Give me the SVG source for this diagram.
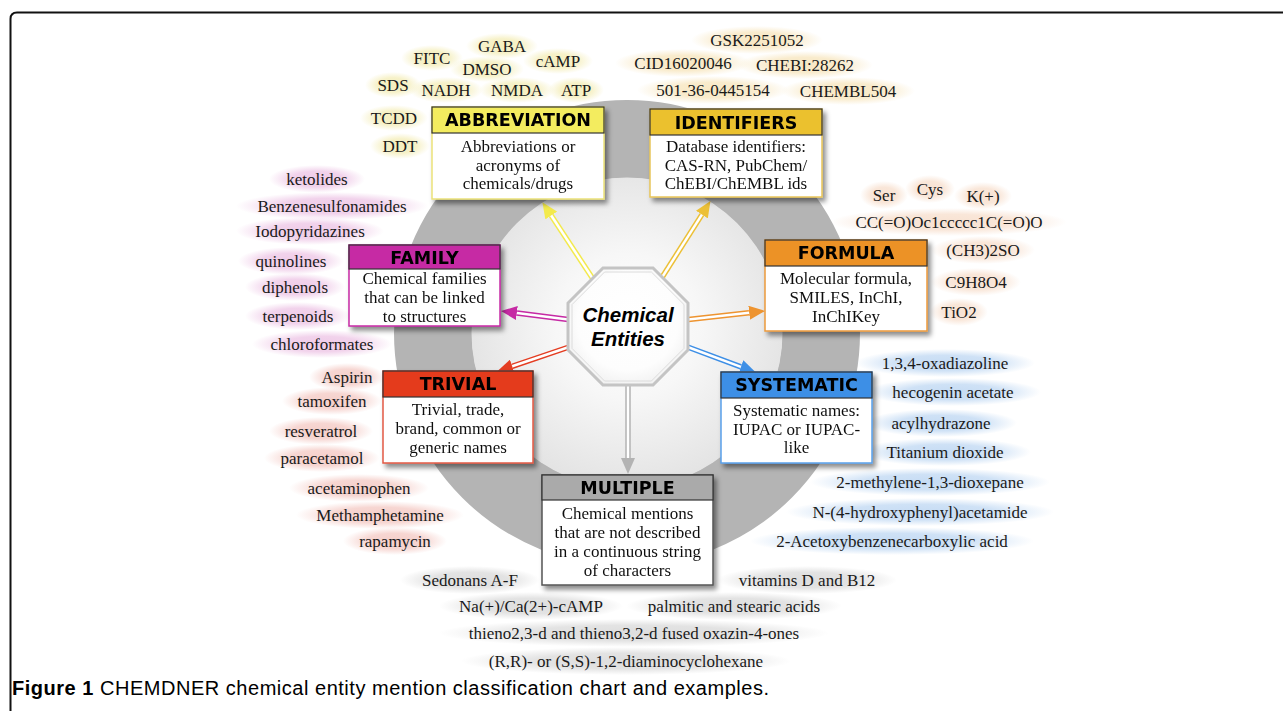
<svg xmlns="http://www.w3.org/2000/svg" width="1283" height="711" viewBox="0 0 1283 711">
<defs>
<style>
.ex{font-family:"Liberation Serif","Times New Roman",serif;font-size:17px;fill:#1a1a1a;text-anchor:middle}
.bd{font-family:"Liberation Serif","Times New Roman",serif;font-size:17px;fill:#111;text-anchor:middle}
.hd{font-family:"DejaVu Sans",Verdana,sans-serif;font-weight:bold;font-size:17.5px;fill:#000;text-anchor:middle}
.body{fill:#fff;stroke-width:1.5}
.head{stroke:#333;stroke-width:1.2}
.sh{stroke-width:5.5;fill:none}
.in{stroke:#fff;stroke-width:2.5;fill:none}
.cap{font-family:"Liberation Sans",Arial,sans-serif;font-size:20px;fill:#000}
</style>
<radialGradient id="gY"><stop offset="0" stop-color="#f5efbf"/><stop offset="0.55" stop-color="#f5efbf" stop-opacity="0.85"/><stop offset="1" stop-color="#f5efbf" stop-opacity="0"/></radialGradient>
<radialGradient id="gI"><stop offset="0" stop-color="#f8e8c4"/><stop offset="0.55" stop-color="#f8e8c4" stop-opacity="0.85"/><stop offset="1" stop-color="#f8e8c4" stop-opacity="0"/></radialGradient>
<radialGradient id="gF"><stop offset="0" stop-color="#efcbe8"/><stop offset="0.55" stop-color="#efcbe8" stop-opacity="0.85"/><stop offset="1" stop-color="#efcbe8" stop-opacity="0"/></radialGradient>
<radialGradient id="gO"><stop offset="0" stop-color="#f8e2d2"/><stop offset="0.55" stop-color="#f8e2d2" stop-opacity="0.85"/><stop offset="1" stop-color="#f8e2d2" stop-opacity="0"/></radialGradient>
<radialGradient id="gR"><stop offset="0" stop-color="#f5cfca"/><stop offset="0.55" stop-color="#f5cfca" stop-opacity="0.85"/><stop offset="1" stop-color="#f5cfca" stop-opacity="0"/></radialGradient>
<radialGradient id="gB"><stop offset="0" stop-color="#c6dcf4"/><stop offset="0.55" stop-color="#c6dcf4" stop-opacity="0.85"/><stop offset="1" stop-color="#c6dcf4" stop-opacity="0"/></radialGradient>
<radialGradient id="gG"><stop offset="0" stop-color="#dedede"/><stop offset="0.55" stop-color="#dedede" stop-opacity="0.85"/><stop offset="1" stop-color="#dedede" stop-opacity="0"/></radialGradient>
<radialGradient id="disc" cx="628" cy="326" r="160" gradientUnits="userSpaceOnUse"><stop offset="0" stop-color="#ffffff"/><stop offset="0.45" stop-color="#f7f7f7"/><stop offset="1" stop-color="#e4e4e4"/></radialGradient>
<radialGradient id="oct" cx="0.5" cy="0.45" r="0.6"><stop offset="0" stop-color="#ffffff"/><stop offset="0.7" stop-color="#fdfdfd"/><stop offset="1" stop-color="#efefef"/></radialGradient>
<filter id="ds" x="-10%" y="-10%" width="130%" height="140%"><feDropShadow dx="3" dy="4" stdDeviation="2.5" flood-color="#000" flood-opacity="0.45"/></filter>
<marker id="mY" viewBox="0 0 16 14" refX="0" refY="7" markerWidth="16" markerHeight="14" markerUnits="userSpaceOnUse" orient="auto"><path d="M0,0 L16,7 L0,14 z" fill="#f3ea4c"/></marker>
<marker id="mI" viewBox="0 0 16 14" refX="0" refY="7" markerWidth="16" markerHeight="14" markerUnits="userSpaceOnUse" orient="auto"><path d="M0,0 L16,7 L0,14 z" fill="#ecc036"/></marker>
<marker id="mF" viewBox="0 0 16 14" refX="0" refY="7" markerWidth="16" markerHeight="14" markerUnits="userSpaceOnUse" orient="auto"><path d="M0,0 L16,7 L0,14 z" fill="#c62aa4"/></marker>
<marker id="mO" viewBox="0 0 16 14" refX="0" refY="7" markerWidth="16" markerHeight="14" markerUnits="userSpaceOnUse" orient="auto"><path d="M0,0 L16,7 L0,14 z" fill="#ee9430"/></marker>
<marker id="mR" viewBox="0 0 16 14" refX="0" refY="7" markerWidth="16" markerHeight="14" markerUnits="userSpaceOnUse" orient="auto"><path d="M0,0 L16,7 L0,14 z" fill="#e43d22"/></marker>
<marker id="mB" viewBox="0 0 16 14" refX="0" refY="7" markerWidth="16" markerHeight="14" markerUnits="userSpaceOnUse" orient="auto"><path d="M0,0 L16,7 L0,14 z" fill="#3d8fe6"/></marker>
<marker id="mG" viewBox="0 0 16 14" refX="0" refY="7" markerWidth="16" markerHeight="14" markerUnits="userSpaceOnUse" orient="auto"><path d="M0,0 L16,7 L0,14 z" fill="#b3b3b3"/></marker>
</defs>
<rect width="1283" height="711" fill="#fff"/>
<path d="M10.5 711 V19 Q10.5 12.5 17 12.5 H1283" fill="none" stroke="#111" stroke-width="2"/>
<g id="ring">
<circle cx="627" cy="333" r="194" fill="none" stroke="#b4b4b4" stroke-width="78"/>
<circle cx="627" cy="333" r="155.5" fill="url(#disc)"/>
</g>

<g id="examples">
<g id="ex-abbreviation">
<ellipse cx="502" cy="46" rx="36" ry="13" fill="url(#gY)"/>
<ellipse cx="432" cy="58" rx="31" ry="13" fill="url(#gY)"/>
<ellipse cx="487" cy="69" rx="37" ry="13" fill="url(#gY)"/>
<ellipse cx="558" cy="61" rx="35" ry="13" fill="url(#gY)"/>
<ellipse cx="393" cy="85" rx="28" ry="13" fill="url(#gY)"/>
<ellipse cx="446" cy="90" rx="37" ry="13" fill="url(#gY)"/>
<ellipse cx="517" cy="90" rx="38" ry="13" fill="url(#gY)"/>
<ellipse cx="576" cy="90" rx="28" ry="13" fill="url(#gY)"/>
<ellipse cx="394" cy="118" rx="34" ry="13" fill="url(#gY)"/>
<ellipse cx="400" cy="146" rx="30" ry="13" fill="url(#gY)"/>
<text class="ex" x="502" y="52">GABA</text>
<text class="ex" x="432" y="64">FITC</text>
<text class="ex" x="487" y="75">DMSO</text>
<text class="ex" x="558" y="67">cAMP</text>
<text class="ex" x="393" y="91">SDS</text>
<text class="ex" x="446" y="96">NADH</text>
<text class="ex" x="517" y="96">NMDA</text>
<text class="ex" x="576" y="96">ATP</text>
<text class="ex" x="394" y="124">TCDD</text>
<text class="ex" x="400" y="152">DDT</text>
</g>
<g id="ex-identifiers">
<ellipse cx="757" cy="40" rx="66" ry="14" fill="url(#gI)"/>
<ellipse cx="683" cy="63" rx="68" ry="14" fill="url(#gI)"/>
<ellipse cx="805" cy="65" rx="68" ry="14" fill="url(#gI)"/>
<ellipse cx="713" cy="90" rx="76" ry="14" fill="url(#gI)"/>
<ellipse cx="848" cy="91" rx="67" ry="14" fill="url(#gI)"/>
<text class="ex" x="757" y="46">GSK2251052</text>
<text class="ex" x="683" y="69">CID16020046</text>
<text class="ex" x="805" y="71">CHEBI:28262</text>
<text class="ex" x="713" y="96">501-36-0445154</text>
<text class="ex" x="848" y="97">CHEMBL504</text>
</g>
<g id="ex-family">
<ellipse cx="317" cy="179" rx="48" ry="14" fill="url(#gF)"/>
<ellipse cx="332" cy="206" rx="96" ry="14" fill="url(#gF)"/>
<ellipse cx="310" cy="231" rx="74" ry="14" fill="url(#gF)"/>
<ellipse cx="291" cy="261" rx="53" ry="14" fill="url(#gF)"/>
<ellipse cx="295" cy="287" rx="50" ry="14" fill="url(#gF)"/>
<ellipse cx="298" cy="316" rx="53" ry="14" fill="url(#gF)"/>
<ellipse cx="322" cy="344" rx="70" ry="14" fill="url(#gF)"/>
<text class="ex" x="317" y="185">ketolides</text>
<text class="ex" x="332" y="212">Benzenesulfonamides</text>
<text class="ex" x="310" y="237">Iodopyridazines</text>
<text class="ex" x="291" y="267">quinolines</text>
<text class="ex" x="295" y="293">diphenols</text>
<text class="ex" x="298" y="322">terpenoids</text>
<text class="ex" x="322" y="350">chloroformates</text>
</g>
<g id="ex-formula">
<ellipse cx="884" cy="195" rx="24" ry="14" fill="url(#gO)"/>
<ellipse cx="930" cy="189" rx="25" ry="14" fill="url(#gO)"/>
<ellipse cx="983" cy="196" rx="29" ry="14" fill="url(#gO)"/>
<ellipse cx="949" cy="222" rx="118" ry="14" fill="url(#gO)"/>
<ellipse cx="983" cy="250" rx="52" ry="14" fill="url(#gO)"/>
<ellipse cx="976" cy="282" rx="45" ry="14" fill="url(#gO)"/>
<ellipse cx="959" cy="312" rx="29" ry="14" fill="url(#gO)"/>
<text class="ex" x="884" y="201">Ser</text>
<text class="ex" x="930" y="195">Cys</text>
<text class="ex" x="983" y="202">K(+)</text>
<text class="ex" x="949" y="228">CC(=O)Oc1ccccc1C(=O)O</text>
<text class="ex" x="983" y="256">(CH3)2SO</text>
<text class="ex" x="976" y="288">C9H8O4</text>
<text class="ex" x="959" y="318">TiO2</text>
</g>
<g id="ex-trivial">
<ellipse cx="347" cy="377" rx="38" ry="14" fill="url(#gR)"/>
<ellipse cx="332" cy="401" rx="50" ry="14" fill="url(#gR)"/>
<ellipse cx="321" cy="431" rx="52" ry="14" fill="url(#gR)"/>
<ellipse cx="322" cy="458" rx="58" ry="14" fill="url(#gR)"/>
<ellipse cx="359" cy="488" rx="70" ry="14" fill="url(#gR)"/>
<ellipse cx="380" cy="515" rx="84" ry="14" fill="url(#gR)"/>
<ellipse cx="395" cy="541" rx="52" ry="14" fill="url(#gR)"/>
<text class="ex" x="347" y="383">Aspirin</text>
<text class="ex" x="332" y="407">tamoxifen</text>
<text class="ex" x="321" y="437">resveratrol</text>
<text class="ex" x="322" y="464">paracetamol</text>
<text class="ex" x="359" y="494">acetaminophen</text>
<text class="ex" x="380" y="521">Methamphetamine</text>
<text class="ex" x="395" y="547">rapamycin</text>
</g>
<g id="ex-systematic">
<ellipse cx="945" cy="363" rx="90" ry="14" fill="url(#gB)"/>
<ellipse cx="953" cy="392" rx="88" ry="14" fill="url(#gB)"/>
<ellipse cx="941" cy="423" rx="76" ry="14" fill="url(#gB)"/>
<ellipse cx="945" cy="452" rx="86" ry="14" fill="url(#gB)"/>
<ellipse cx="930" cy="482" rx="120" ry="14" fill="url(#gB)"/>
<ellipse cx="920" cy="512" rx="134" ry="14" fill="url(#gB)"/>
<ellipse cx="892" cy="541" rx="142" ry="14" fill="url(#gB)"/>
<text class="ex" x="945" y="369">1,3,4-oxadiazoline</text>
<text class="ex" x="953" y="398">hecogenin acetate</text>
<text class="ex" x="941" y="429">acylhydrazone</text>
<text class="ex" x="945" y="458">Titanium dioxide</text>
<text class="ex" x="930" y="488">2-methylene-1,3-dioxepane</text>
<text class="ex" x="920" y="518">N-(4-hydroxyphenyl)acetamide</text>
<text class="ex" x="892" y="547">2-Acetoxybenzenecarboxylic acid</text>
</g>
<g id="ex-multiple">
<ellipse cx="470" cy="580" rx="70" ry="14" fill="url(#gG)"/>
<ellipse cx="807" cy="580" rx="90" ry="14" fill="url(#gG)"/>
<ellipse cx="531" cy="606" rx="92" ry="14" fill="url(#gG)"/>
<ellipse cx="734" cy="606" rx="108" ry="14" fill="url(#gG)"/>
<ellipse cx="634" cy="633" rx="195" ry="14" fill="url(#gG)"/>
<ellipse cx="626" cy="661" rx="165" ry="14" fill="url(#gG)"/>
<text class="ex" x="470" y="586">Sedonans A-F</text>
<text class="ex" x="807" y="586">vitamins D and B12</text>
<text class="ex" x="531" y="612">Na(+)/Ca(2+)-cAMP</text>
<text class="ex" x="734" y="612">palmitic and stearic acids</text>
<text class="ex" x="634" y="639">thieno2,3-d and thieno3,2-d fused oxazin-4-ones</text>
<text class="ex" x="626" y="667">(R,R)- or (S,S)-1,2-diaminocyclohexane</text>
</g>
</g>

<g id="connectors">
<path class="sh" stroke="#f3ea4c" d="M593 279 L551.2 215.5" marker-end="url(#mY)"/><path class="in" d="M593 279 L551.2 215.5"/>
<path class="sh" stroke="#ecc036" d="M661 279 L701.9 214.6" marker-end="url(#mI)"/><path class="in" d="M661 279 L701.9 214.6"/>
<path class="sh" stroke="#c62aa4" d="M572 320 L516.9 313" marker-end="url(#mF)"/><path class="in" d="M572 320 L516.9 313"/>
<path class="sh" stroke="#ee9430" d="M684 320 L749.1 312.7" marker-end="url(#mO)"/><path class="in" d="M684 320 L749.1 312.7"/>
<path class="sh" stroke="#e43d22" d="M572 346 L512.2 366.3" marker-end="url(#mR)"/><path class="in" d="M572 346 L512.2 366.3"/>
<path class="sh" stroke="#3d8fe6" d="M685 346 L740.9 366.8" marker-end="url(#mB)"/><path class="in" d="M685 346 L740.9 366.8"/>
<path class="sh" stroke="#b3b3b3" d="M628 380 L628 458" marker-end="url(#mG)"/><path class="in" d="M628 380 L628 458"/>
</g>

<g id="center">
<polygon points="603,268 653,268 688,303 688,350 653,385 603,385 568,350 568,303" fill="url(#oct)" stroke="#c4c4c4" stroke-width="3"/>
<polygon points="604.6,272 651.4,272 684,304.6 684,348.4 651.4,381 604.6,381 572,348.4 572,304.6" fill="none" stroke="#dcdcdc" stroke-width="1"/>
<text x="628" y="322" font-family="'Liberation Sans',Arial,sans-serif" font-weight="bold" font-style="italic" font-size="20.5" text-anchor="middle" fill="#000">Chemical</text>
<text x="628" y="346" font-family="'Liberation Sans',Arial,sans-serif" font-weight="bold" font-style="italic" font-size="20.5" text-anchor="middle" fill="#000">Entities</text>
</g>

<g id="abbreviation" filter="url(#ds)">
<rect class="body" x="432" y="107" width="172" height="92" stroke="#ebe27a"/>
<rect class="head" x="432" y="107" width="172" height="26" fill="#f3ec5e"/>
<text class="hd" x="518" y="126">ABBREVIATION</text>
<text class="bd" x="518" y="152">Abbreviations or</text>
<text class="bd" x="518" y="171">acronyms of</text>
<text class="bd" x="518" y="189">chemicals/drugs</text>
</g>
<g id="identifiers" filter="url(#ds)">
<rect class="body" x="650" y="109" width="172" height="88" stroke="#e8c55a"/>
<rect class="head" x="650" y="109" width="172" height="26" fill="#ebc12e"/>
<text class="hd" x="736" y="129">IDENTIFIERS</text>
<text class="bd" x="736" y="152">Database identifiers:</text>
<text class="bd" x="736" y="171">CAS-RN, PubChem/</text>
<text class="bd" x="736" y="189">ChEBI/ChEMBL ids</text>
</g>
<g id="family" filter="url(#ds)">
<rect class="body" x="349" y="245" width="151" height="81" stroke="#c62aa4"/>
<rect class="head" x="349" y="245" width="151" height="24" fill="#c62aa4"/>
<text class="hd" x="424.5" y="264">FAMILY</text>
<text class="bd" x="424.5" y="284">Chemical families</text>
<text class="bd" x="424.5" y="303">that can be linked</text>
<text class="bd" x="424.5" y="322">to structures</text>
</g>
<g id="formula" filter="url(#ds)">
<rect class="body" x="765" y="240" width="162" height="91" stroke="#ec9a3c"/>
<rect class="head" x="765" y="240" width="162" height="26" fill="#ec9226"/>
<text class="hd" x="846" y="259">FORMULA</text>
<text class="bd" x="846" y="284">Molecular formula,</text>
<text class="bd" x="846" y="303">SMILES, InChI,</text>
<text class="bd" x="846" y="322">InChIKey</text>
</g>
<g id="trivial" filter="url(#ds)">
<rect class="body" x="383" y="371" width="150" height="92" stroke="#e25a45"/>
<rect class="head" x="383" y="371" width="150" height="26" fill="#e43b1e"/>
<text class="hd" x="458" y="390">TRIVIAL</text>
<text class="bd" x="458" y="415">Trivial, trade,</text>
<text class="bd" x="458" y="434">brand, common or</text>
<text class="bd" x="458" y="453">generic names</text>
</g>
<g id="systematic" filter="url(#ds)">
<rect class="body" x="721" y="372" width="151" height="91" stroke="#5aa0ea"/>
<rect class="head" x="721" y="372" width="151" height="26" fill="#3d8fe6"/>
<text class="hd" x="796.5" y="391">SYSTEMATIC</text>
<text class="bd" x="796.5" y="416">Systematic names:</text>
<text class="bd" x="796.5" y="435">IUPAC or IUPAC-</text>
<text class="bd" x="796.5" y="453">like</text>
</g>
<g id="multiple" filter="url(#ds)">
<rect class="body" x="542" y="475" width="171" height="110" stroke="#555"/>
<rect class="head" x="542" y="475" width="171" height="25" fill="#aaaaaa"/>
<text class="hd" x="627.5" y="494">MULTIPLE</text>
<text class="bd" x="627.5" y="519">Chemical mentions</text>
<text class="bd" x="627.5" y="538">that are not described</text>
<text class="bd" x="627.5" y="557">in a continuous string</text>
<text class="bd" x="627.5" y="576">of characters</text>
</g>

<text class="cap" x="12" y="695" textLength="757" lengthAdjust="spacing"><tspan font-weight="bold">Figure 1</tspan> CHEMDNER chemical entity mention classification chart and examples.</text>
</svg>
